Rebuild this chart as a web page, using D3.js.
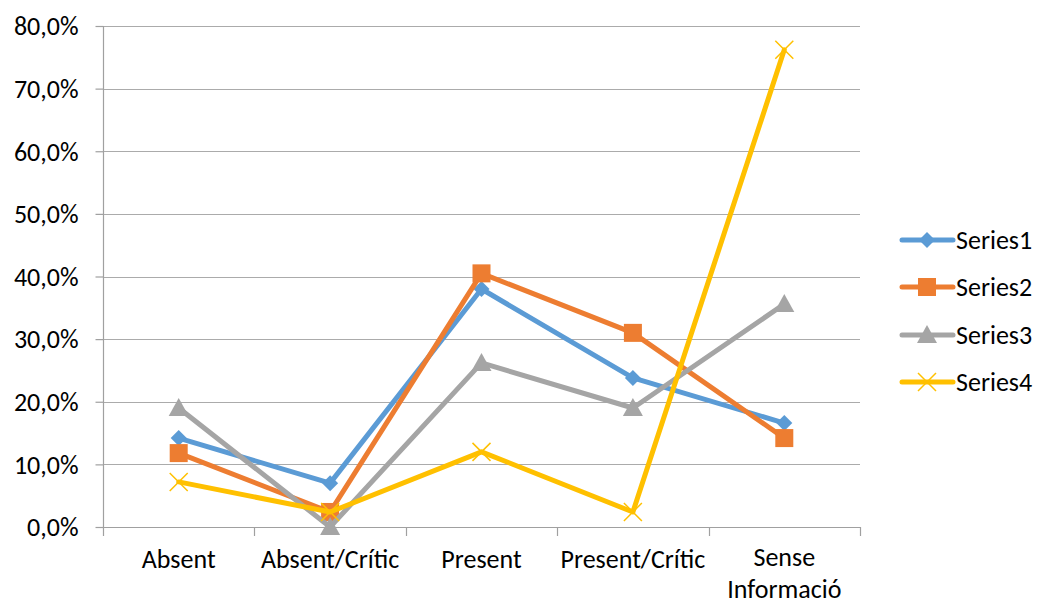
<!DOCTYPE html>
<html><head><meta charset="utf-8">
<script src="https://cdn.jsdelivr.net/npm/d3@7"></script>
<style>body{margin:0;background:#fff}svg{display:block}text{font-family:Carlito,Calibri,"Open Sans",sans-serif}</style>
</head><body>
<svg id="c" width="1038" height="603"></svg>
<script>
const categories = ["Absent","Absent/Crític","Present","Present/Crític","Sense Informació"];
const seriesNames = ["Series1","Series2","Series3","Series4"];
const series1 = [0.142, 0.070, 0.380, 0.238, 0.166];
const series2 = [0.118, 0.024, 0.405, 0.310, 0.142];
const series3 = [0.190, 0.000, 0.262, 0.190, 0.356];
const series4 = [0.072, 0.024, 0.120, 0.024, 0.762];
const yTicks = [0,0.1,0.2,0.3,0.4,0.5,0.6,0.7,0.8];

const colors = ["#5B9BD5","#ED7D31","#A5A5A5","#FFC000"];
const markers = ["diamond","square","triangle","x"];
const data = [series1,series2,series3,series4];

const svg = d3.select("#c");
const pL=103, pR=860, pT=26, pB=527;
const FS = 26;
const x = d3.scaleBand().domain(categories).range([pL,pR]);
const y = d3.scaleLinear().domain([0,0.8]).range([pB,pT]);
const fmt = v => d3.format(".1f")(v*100).replace(".",",")+"%";

// gridlines
svg.append("g").selectAll("line").data(yTicks.filter(d=>d>0)).join("line")
  .attr("x1",pL).attr("x2",pR).attr("y1",d=>Math.round(y(d))+0.5).attr("y2",d=>Math.round(y(d))+0.5)
  .attr("stroke","#ababab").attr("stroke-width",1.2);

// y axis
const ya = svg.append("g").attr("transform",`translate(${pL+0.5},0)`)
  .call(d3.axisLeft(y).tickValues(yTicks).tickFormat(fmt).tickSize(8).tickPadding(17));
ya.select(".domain").remove();
ya.selectAll(".tick line").attr("stroke","#a0a0a0").attr("stroke-width",1.2);
ya.selectAll(".tick text").attr("font-size",FS).attr("fill","#000").attr("dy","0.34em");
svg.append("line").attr("x1",pL+0.5).attr("x2",pL+0.5).attr("y1",pT).attr("y2",pB+9)
  .attr("stroke","#a0a0a0").attr("stroke-width",1.2);

// x axis
svg.append("line").attr("x1",pL).attr("x2",pR).attr("y1",pB+0.5).attr("y2",pB+0.5)
  .attr("stroke","#a0a0a0").attr("stroke-width",1.2);
const bounds = categories.map(c=>x(c)).concat([pR]);
svg.append("g").selectAll("line").data(bounds.slice(1)).join("line")
  .attr("x1",d=>Math.round(d)+0.5).attr("x2",d=>Math.round(d)+0.5).attr("y1",pB).attr("y2",pB+9)
  .attr("stroke","#a0a0a0").attr("stroke-width",1.2);
const xLabelLines = [];
categories.forEach(c=>{
  const words = c==="Sense Informació" ? ["Sense","Informació"] : [c];
  words.forEach((w,i)=>xLabelLines.push({c,w,i,n:words.length}));
});
svg.append("g").selectAll("text").data(xLabelLines).join("text")
  .attr("x",d=>x(d.c)+x.bandwidth()/2).attr("y",d=>d.n===1?568:(d.i?597.5:566)).attr("text-anchor","middle")
  .attr("font-size",FS).attr("fill","#000").text(d=>d.w);

function drawMarker(g,type,cx,cy,color){
  if(type==="diamond"){
    g.append("path").attr("d",`M${cx},${cy-8}L${cx+8},${cy}L${cx},${cy+8}L${cx-8},${cy}Z`).attr("fill",color);
  } else if(type==="square"){
    g.append("rect").attr("x",cx-9).attr("y",cy-9).attr("width",18).attr("height",18).attr("fill",color);
  } else if(type==="triangle"){
    g.append("path").attr("d",`M${cx},${cy-10}L${cx+10},${cy+8}L${cx-10},${cy+8}Z`).attr("fill",color);
  } else {
    g.append("path").attr("d",`M${cx-9},${cy-9}L${cx+9},${cy+9}M${cx+9},${cy-9}L${cx-9},${cy+9}`)
      .attr("stroke",color).attr("stroke-width",1.5).attr("fill","none");
  }
}

const line = d3.line().x((d,i)=>x(categories[i])+x.bandwidth()/2).y(d=>y(d));
data.forEach((s,k)=>{
  const g = svg.append("g");
  g.append("path").datum(s).attr("d",line).attr("fill","none").attr("stroke",colors[k])
    .attr("stroke-width",5).attr("stroke-linejoin","round").attr("stroke-linecap","round");
  s.forEach((v,i)=>drawMarker(g,markers[k],x(categories[i])+x.bandwidth()/2,y(v),colors[k]));
});

// legend
const ly = [240,287,335,382];
seriesNames.forEach((n,k)=>{
  const g = svg.append("g");
  g.append("line").attr("x1",902).attr("x2",953).attr("y1",ly[k]).attr("y2",ly[k])
    .attr("stroke",colors[k]).attr("stroke-width",5).attr("stroke-linecap","round");
  drawMarker(g,markers[k],927,ly[k],colors[k]);
  g.append("text").attr("x",956).attr("y",ly[k]).attr("dy","0.34em").attr("font-size",FS).attr("fill","#000").text(n);
});
</script>
</body></html>
